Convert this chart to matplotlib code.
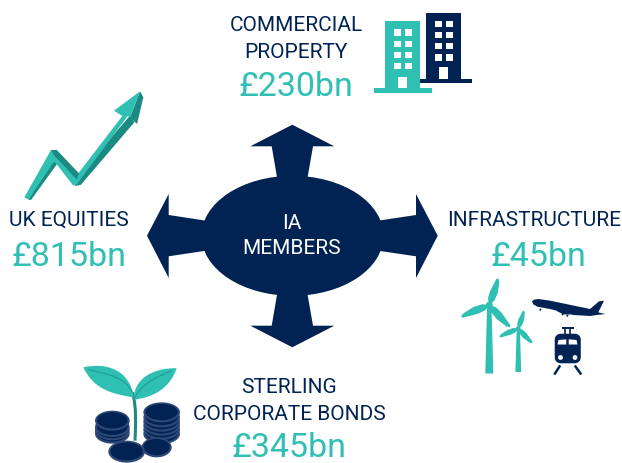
import numpy as np
import matplotlib
matplotlib.use("Agg")
import matplotlib.pyplot as plt
from matplotlib.patches import Polygon, Ellipse, Rectangle, FancyBboxPatch, Circle, PathPatch
from matplotlib.path import Path

plt.rcParams['font.family'] = ['Roboto', 'DejaVu Sans']

categories = ["COMMERCIAL\nPROPERTY", "UK EQUITIES", "INFRASTRUCTURE", "STERLING\nCORPORATE BONDS"]
values = ["£230bn", "£815bn", "£45bn", "£345bn"]
centre_label = "IA\nMEMBERS"

NAVY = "#012353"
TEAL = "#2fbfb3"
DARK = "#1b8a80"
VEIN = "#1f9c90"
COIN = "#2f4877"

fig = plt.figure(figsize=(6.22, 4.64), dpi=100)
ax = fig.add_axes([0, 0, 1, 1])
ax.set_xlim(0, 622)
ax.set_ylim(464, 0)
ax.axis("off")


def poly(pts, color, z=2, ox=0, oy=0, s=1):
    ax.add_patch(Polygon([(ox + x * s, oy + y * s) for x, y in pts], closed=True,
                         fc=color, ec="none", zorder=z))


def rect(x0, y0, x1, y1, color, z=2):
    ax.add_patch(Rectangle((x0, y0), x1 - x0, y1 - y0, fc=color, ec="none", zorder=z))


def curve(pts, color, z=2, ox=0, oy=0, s=1, lw=0, fill=True):
    """pts: first point then triples of cubic control points"""
    verts = [(ox + x * s, oy + y * s) for x, y in pts]
    codes = [Path.MOVETO] + [Path.CURVE4] * (len(pts) - 1)
    if fill:
        ax.add_patch(PathPatch(Path(verts, codes), fc=color, ec="none", zorder=z))
    else:
        ax.add_patch(PathPatch(Path(verts, codes), fc="none", ec=color, lw=lw, zorder=z))


# centre hub with four arrows
ax.add_patch(Ellipse((292.5, 236.8), 182, 120, fc=NAVY, ec="none", zorder=2))
poly([(292.3, 125.7), (334.3, 147.3), (313, 147.3), (307.3, 180), (277.3, 180), (271.7, 147.3), (250.3, 147.3)], NAVY)
poly([(292.3, 348.3), (334.3, 326.7), (313, 326.7), (307.3, 294), (277.3, 294), (271.7, 326.7), (250.3, 326.7)], NAVY)
poly([(437.7, 236.7), (416, 195), (416, 216), (378, 221.7), (378, 251.7), (416, 257.3), (416, 279)], NAVY)
poly([(147, 236.7), (168.7, 195), (168.7, 216), (206, 221.7), (206, 251.7), (168.7, 257.3), (168.7, 279)], NAVY)

# buildings
rect(426.3, 13.7, 461, 80, NAVY)
rect(420, 80, 472.3, 84.3, NAVY)
for x0 in (435, 446):
    for y0 in (21.7, 33, 44, 55.3):
        rect(x0, y0, x0 + 6.7, y0 + 6.4, "white", 3)
rect(439.3, 68.3, 448, 80, "white", 3)
rect(385.3, 22, 420.3, 90, TEAL, 4)
rect(374, 89.3, 432, 94, TEAL, 4)
for x0 in (394, 405.3):
    for y0 in (30.3, 41.7, 53, 64):
        rect(x0, y0, x0 + 6.7, y0 + 6.4, "white", 5)
rect(398.3, 77.7, 407.3, 89.3, "white", 5)


# wind turbines
def turbine(hx, hy, tips, w_top, w_bot, y_bot, bw):
    poly([(hx - w_top, hy), (hx + w_top, hy), (hx + w_bot, y_bot), (hx - w_bot, y_bot)], TEAL)
    ax.add_patch(Circle((hx, hy), bw * 0.8, fc=TEAL, ec="none", zorder=3))
    for tx, ty in tips:
        dx, dy = tx - hx, ty - hy
        nx, ny = -dy, dx
        n = np.hypot(nx, ny)
        nx, ny = nx / n * bw, ny / n * bw
        poly([(hx, hy),
              (hx + dx * .2 + nx * .8, hy + dy * .2 + ny * .8),
              (hx + dx * .5 + nx, hy + dy * .5 + ny),
              (hx + dx * .9 + nx * .5, hy + dy * .9 + ny * .5),
              (tx, ty),
              (hx + dx * .95 - nx * .4, hy + dy * .95 - ny * .4),
              (hx + dx * .45 - nx * .9, hy + dy * .45 - ny * .9),
              (hx + dx * .2 - nx * .8, hy + dy * .2 - ny * .8)], TEAL, 3)


turbine(489.3, 306, [(498.3, 279.3), (461, 317.7), (510, 328.3)], 2.2, 4, 374.5, 4.2)
turbine(518.3, 329.5, [(524, 311.7), (499.3, 337.7), (532.3, 344.3)], 1.6, 2.9, 373, 3.0)

# plane
poly([(246, 97), (252, 92), (265, 90), (300, 95), (420, 120), (447, 97), (462, 95), (445, 130),
      (466, 135), (440, 138), (420, 141), (370, 138), (300, 120), (262, 113), (250, 106)],
     NAVY, 2, 450, 270, 1 / 3)
poly([(318, 125), (345, 127), (362, 137), (340, 136)], NAVY, 2, 450, 270, 1 / 3)
for gx, gy in [(271, 122), (338, 136), (352, 140)]:
    ax.add_patch(Circle((450 + gx / 3, 270 + gy / 3), 1.0, fc=NAVY, ec="none", zorder=2))

# train
ax.add_patch(FancyBboxPatch((557.5, 337.5), 20.5, 24, boxstyle="round,pad=0,rounding_size=3.5",
                            fc=NAVY, ec=NAVY, lw=4, zorder=2, mutation_aspect=1))
poly([(558.5, 341), (566.3, 340.3), (566.3, 345.5), (557.5, 345.5)], "white", 3)
poly([(568.7, 340.3), (576.5, 341), (577.5, 345.5), (568.7, 345.5)], "white", 3)
for cx in (560.5, 575):
    ax.add_patch(Circle((cx, 358.5), 2.4, fc="white", ec="none", zorder=3))
ax.plot([562, 574], [329, 329], color=NAVY, lw=1.4, zorder=2, solid_capstyle="butt")
ax.plot([565, 565], [329, 335], color=NAVY, lw=1.2, zorder=2)
ax.plot([570, 570], [329, 335], color=NAVY, lw=1.2, zorder=2)
ax.plot([559.5, 555], [367.5, 374.5], color=NAVY, lw=1.8, zorder=2)
ax.plot([575.5, 580.5], [367.5, 374.5], color=NAVY, lw=1.8, zorder=2)

# rising arrow
A = dict(ox=15, oy=85, s=1 / 3)
poly([(345, 95), (358, 115), (197, 303), (180, 306), (186, 280)], DARK, 2, **A)
poly([(375, 22), (385, 40), (366, 120), (345, 100)], DARK, 2, **A)
poly([(112, 225), (126, 240), (48, 348), (40, 347)], DARK, 2, **A)
poly([(28, 340), (108, 198), (125, 198), (190, 268), (322, 96), (297, 80), (375, 22), (345, 100),
      (338, 96), (186, 300), (175, 305), (118, 232), (40, 347)], TEAL, 3, **A)
poly([(108, 198), (125, 198), (192, 268), (186, 287), (118, 215)], DARK, 4, **A)

# seedling and coins
S = dict(ox=75, oy=360, s=1 / 3)
curve([(172, 100), (185, 140), (182, 200), (180, 245)], DARK, 2, lw=2.2, fill=False, **S)
curve([(25, 25), (90, 10), (165, 30), (176, 115), (110, 105), (55, 90), (25, 25)], TEAL, 3, **S)
curve([(305, 28), (235, 25), (175, 60), (176, 122), (240, 115), (285, 85), (305, 28)], TEAL, 3, **S)
curve([(40, 32), (100, 45), (150, 55), (172, 100)], VEIN, 4, lw=0.8, fill=False, **S)
curve([(290, 35), (240, 55), (195, 80), (178, 118)], VEIN, 4, lw=0.8, fill=False, **S)


def coin(x, y, a, b, z):
    ax.add_patch(Ellipse((75 + x / 3, 360 + y / 3), 2 * a / 3, 2 * b / 3, fc=COIN, ec="none", zorder=z))
    ax.add_patch(Ellipse((75 + x / 3, 360 + y / 3 - .3), 2 * a * .88 / 3, 2 * b * .82 / 3, fc=NAVY, ec="none", zorder=z))


for i, y in enumerate([224, 214, 204, 185]):
    coin(112, y, 52, 30, 5 + i)
for i, y in enumerate([225, 212, 200, 188, 175, 160]):
    coin(260, y, 55, 30, 5 + i)
coin(245, 265, 45, 30, 12)
coin(155, 278, 55, 33, 13)

# text


def label(x, y, s, size, color, ls=1.5):
    ax.text(x, y, s, ha="center", va="center", fontsize=size, color=color, zorder=20,
            linespacing=ls)


SZ, BIG = 15, 24.5
label(296, 39, categories[0], SZ, NAVY)
label(296, 87, values[0], BIG, TEAL)
label(69, 220, categories[1], SZ, NAVY)
label(69, 257, values[1], BIG, TEAL)
label(534, 221, categories[2], SZ, NAVY)
label(538, 257, values[2], BIG, TEAL)
label(289, 401, categories[3], SZ, NAVY)
label(289, 448.5, values[3], BIG, TEAL)
label(292, 236, centre_label, SZ, "white", 1.42)

fig.savefig("out.png", dpi=100)
